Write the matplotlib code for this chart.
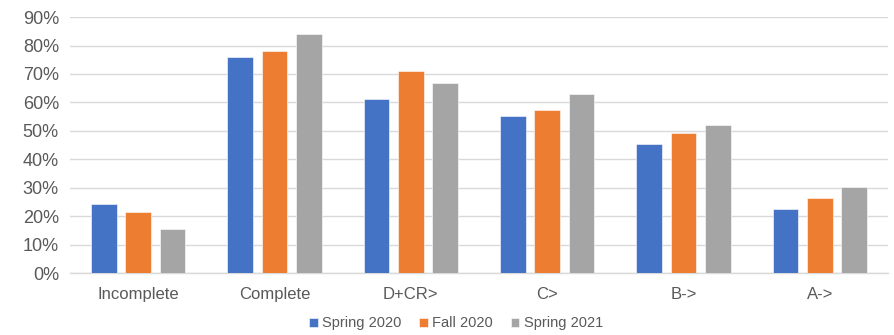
import matplotlib
matplotlib.use("Agg")
import matplotlib.pyplot as plt
import numpy as np
from matplotlib.ticker import FuncFormatter, MultipleLocator

categories = ["Incomplete", "Complete", "D+CR>", "C>", "B->", "A->"]
series_names = ["Spring 2020", "Fall 2020", "Spring 2021"]
spring2020 = [0.241, 0.758, 0.613, 0.553, 0.452, 0.224]
fall2020 = [0.215, 0.779, 0.709, 0.575, 0.491, 0.264]
spring2021 = [0.156, 0.842, 0.667, 0.630, 0.520, 0.302]
colors = ["#4472C4", "#ED7D31", "#A5A5A5"]

plt.rcParams['font.family'] = ['Liberation Sans', 'DejaVu Sans']

fig = plt.figure(figsize=(8.94, 3.35), dpi=100)
ax = fig.add_axes([0.0783, 0.185, 0.915, 0.764])

x = np.arange(len(categories))
width = 0.188
step = 0.251
for i, (vals, name, c) in enumerate(zip([spring2020, fall2020, spring2021], series_names, colors)):
    ax.bar(x + (i - 1) * step, vals, width, color=c, label=name, zorder=3,
           edgecolor='white', linewidth=0.4)

ax.set_xlim(-0.5, len(categories) - 0.5)
ax.set_ylim(0, 0.9)
ax.yaxis.set_major_locator(MultipleLocator(0.1))
ax.yaxis.set_major_formatter(FuncFormatter(lambda v, p: f"{round(v*100):d}%"))
ax.grid(axis='y', color='#D9D9D9', linewidth=1, zorder=0)
for s in ['top', 'right', 'left']:
    ax.spines[s].set_visible(False)
ax.spines['bottom'].set_color('#D9D9D9')
ax.spines['bottom'].set_linewidth(1)
ax.set_xticks(x)
ax.set_xticklabels(categories)
ax.tick_params(axis='x', length=0, colors='#595959', labelsize=12, pad=10)
ax.tick_params(axis='y', length=0, colors='#595959', labelsize=13, pad=8)

leg = ax.legend(loc='center', bbox_to_anchor=(0.472, -0.197), ncol=3, frameon=False,
                fontsize=10.5, handlelength=0.6, handleheight=0.6, handletextpad=0.3,
                columnspacing=1.2, borderpad=0)
for t in leg.get_texts():
    t.set_color('#595959')

fig.savefig("out.png", dpi=100)
